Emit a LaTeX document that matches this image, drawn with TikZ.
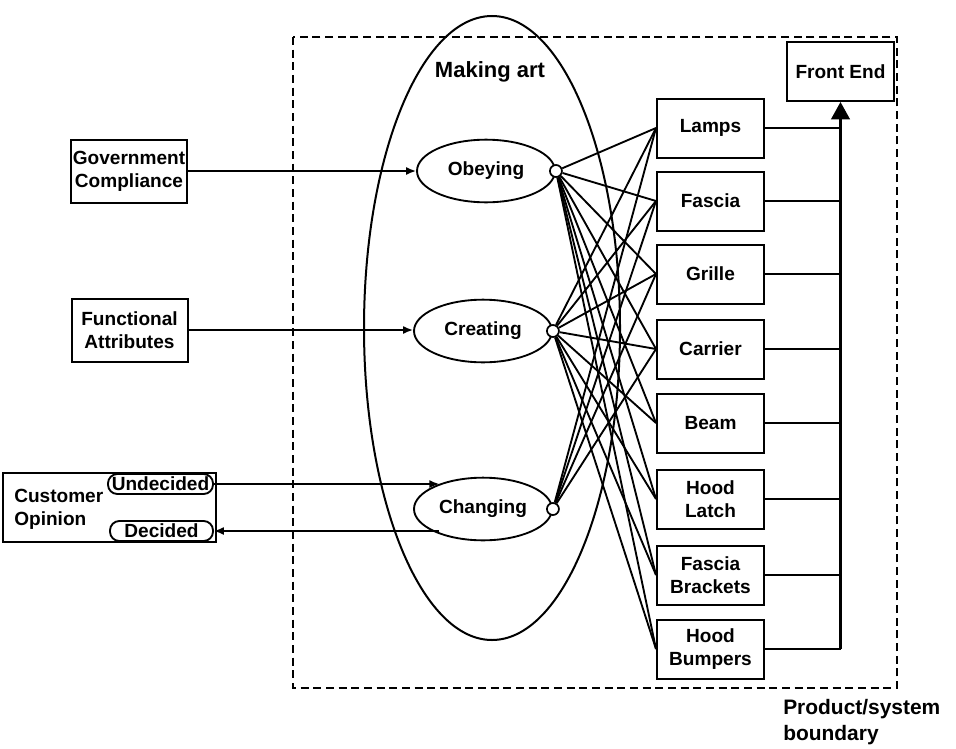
\documentclass[tikz,border=0pt]{standalone}
\usepackage{fontspec}
\setmainfont{Liberation Sans}
\usetikzlibrary{shapes.geometric,arrows.meta}
\begin{document}
\begin{tikzpicture}[x=0.75pt,y=-0.75pt,
  every node/.style={font=\bfseries\fontsize{14.3pt}{17.5pt}\selectfont, inner sep=0pt},
  part/.style={draw, line width=1.5pt, minimum width=80.25pt, minimum height=44.25pt, align=center},
  srcbox/.style={draw, line width=1.5pt, minimum width=87pt, minimum height=47.25pt, align=center},
  func/.style={draw, ellipse, line width=1.4pt, minimum width=103.5pt, minimum height=47pt},
  port/.style={draw, circle, fill=white, line width=1.3pt, minimum size=9pt},
  pill/.style={draw, rounded corners=7pt, line width=1.4pt, minimum height=15pt},
  link/.style={line width=1.4pt},
  arr/.style={line width=1.2pt, -{Latex[length=7.5pt,width=6pt]}},
  bigarr/.style={line width=1.6pt, -{Triangle[length=13pt,width=14pt]}}]

\useasboundingbox (0,0) rectangle (956,749);

% product/system boundary
\draw[dashed, line width=1.5pt, dash pattern=on 6pt off 3.5pt] (293,37) rectangle (897,688);
\node[anchor=north west, align=left, font=\bfseries\fontsize{15.7pt}{19.5pt}\selectfont]
  (bound) at (783,699) {Product/system\\boundary};

% the "making art" region
\node[draw, ellipse, line width=1.5pt, minimum width=192pt, minimum height=468pt] (art) at (492,328) {};
\node[font=\bfseries\fontsize{16.5pt}{19pt}\selectfont] (artlbl) at (490,72) {Making art};

% functions
\node[func] (obey) at (486,171) {Obeying};
\node[func] (creat) at (483,331) {Creating};
\node[func] (chg) at (483,509) {Changing};

% inputs
\node[srcbox] (gov) at (129,171) {Government\\Compliance};
\node[srcbox] (fa) at (129.5,330) {Functional\\Attributes};
\node[draw, line width=1.5pt, minimum width=159.75pt, minimum height=51.75pt] (cust) at (109.5,507.5) {};
\node[anchor=west, align=left] (custlbl) at (14,509) {Customer\\Opinion};
\node[pill, minimum width=78.75pt] (und) at (160.5,484) {Undecided};
\node[pill, minimum width=77.25pt] (dec) at (161.5,531) {Decided};

% components
\node[part] (lamps) at (710.5,128) {Lamps};
\node[part] (fascia) at (710.5,201) {Fascia};
\node[part] (grille) at (710.5,274) {Grille};
\node[part] (carrier) at (710.5,349) {Carrier};
\node[part] (beam) at (710.5,423) {Beam};
\node[part] (hl) at (710.5,499) {Hood\\Latch};
\node[part] (fb) at (710.5,575) {Fascia\\Brackets};
\node[part] (hb) at (710.5,649) {Hood\\Bumpers};
\node[part] (fe) at (840.5,71.5) {Front End};

% ports on the functions
\node[port] (pO) at (obey.east) {};
\node[port] (pC) at (creat.east) {};
\node[port] (pG) at (chg.east) {};

% function-to-component links
\foreach \c in {lamps,fascia,grille,carrier,beam,hl,fb,hb} {
  \draw[link] (pO) -- (\c.west);
  \draw[link] (pC) -- (\c.west);
}
\foreach \c in {lamps,fascia,grille,carrier} {
  \draw[link] (pG) -- (\c.west);
}

% component bus into the front end
\foreach \c in {lamps,fascia,grille,carrier,beam,hl,fb,hb} {
  \draw[link] (\c.east) -- (\c.east -| fe.south);
}
\coordinate (busend) at (hb.east -| fe.south);
\draw[bigarr] (busend) -- (fe.south);

% inputs into the functions
\draw[arr] (gov.east) -- (gov.east -| obey.west);
\draw[arr] (fa.east) -- (fa.east -| creat.west);
\draw[arr] (und.east) -- (und.east -| chg.150);
\draw[arr] (dec.east -| chg.210) -- (dec.east);
\end{tikzpicture}
\end{document}
